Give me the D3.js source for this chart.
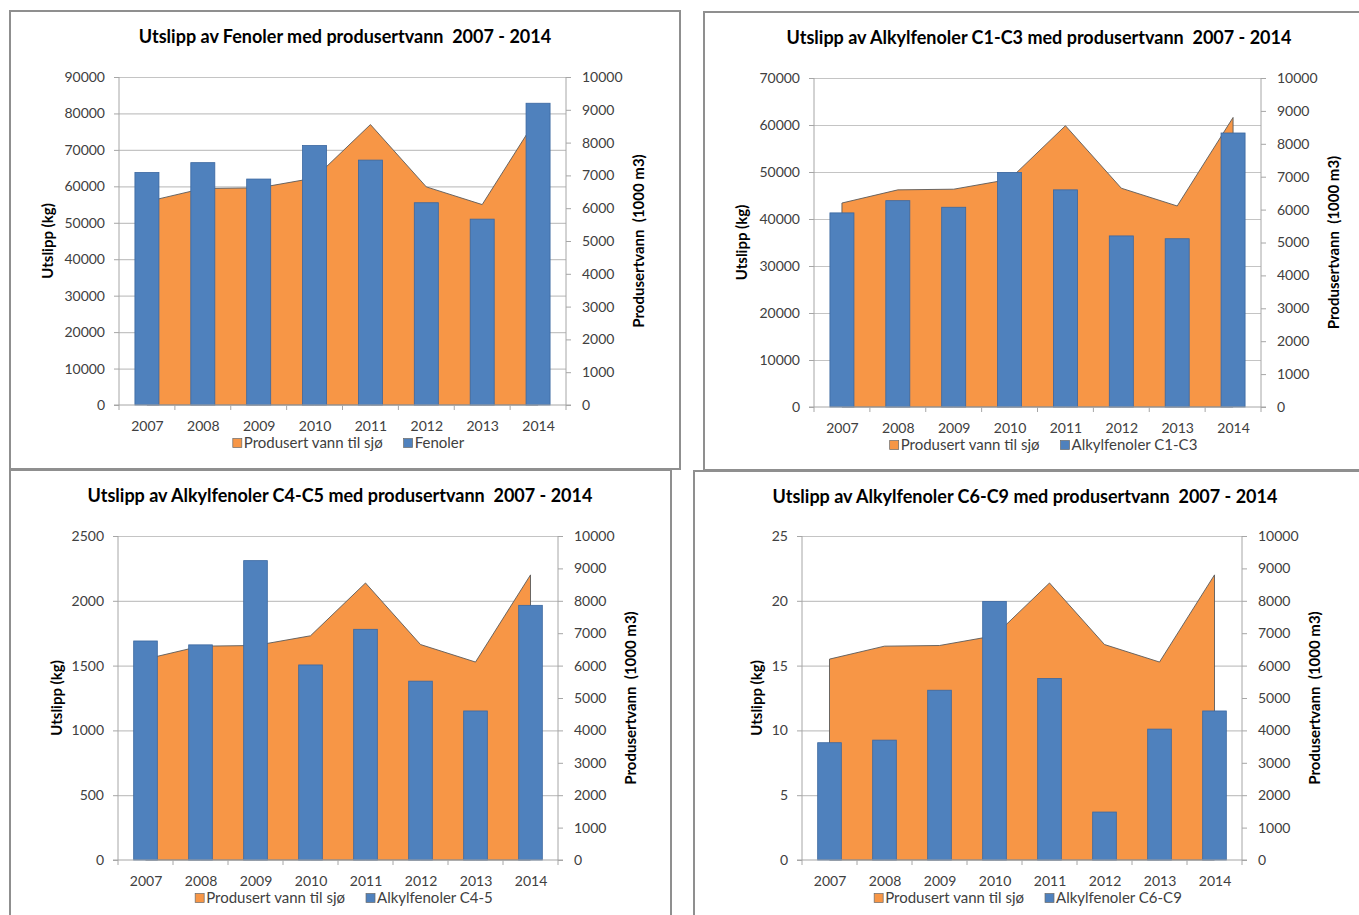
<!DOCTYPE html>
<html>
<head>
<meta charset="utf-8">
<script src="https://cdn.jsdelivr.net/npm/d3@7"></script>
<style>
body{margin:0;background:#fff;}
text{font-family:Lato,"Open Sans",sans-serif;}
.tick text{fill:#404040;font-size:14px;}
.axis path,.axis line{stroke:#a6a6a6;}
.grid line{stroke:#c4c4c4;stroke-width:1.2;}
.grid path{display:none;}
.title{font-weight:bold;font-size:18px;fill:#000;white-space:pre;}
.ylab{font-weight:bold;font-size:15px;fill:#000;white-space:pre;}
.leg{font-size:15px;fill:#404040;}
</style>
</head>
<body>
<svg id="chart" width="1359" height="915"></svg>
<script>
// data
var years=["2007","2008","2009","2010","2011","2012","2013","2014"];
var prodVann=[6200,6600,6620,6920,8550,6650,6110,8800]; // 1000 m3, same in all panels
var fenoler=[63800,66500,62000,71200,67200,55500,51000,82800];
var alkC1C3=[41300,43900,42500,49900,46200,36400,35800,58300];
var alkC4C5=[1690,1660,2310,1505,1780,1380,1150,1965];
var alkC6C9=[9.05,9.25,13.1,19.95,14.0,3.7,10.1,11.5];
var rightTicks=[0,1000,2000,3000,4000,5000,6000,7000,8000,9000,10000];

var svg=d3.select("#chart");

var panels=[
 {title:"Utslipp av Fenoler med produsertvann  2007 - 2014",name:"Fenoler",vals:fenoler,max:90000,step:10000,
  box:[10,11,670,458],tx:345,l:119,r:566,t:77,b:405,ylx:-71},
 {title:"Utslipp av Alkylfenoler C1-C3 med produsertvann  2007 - 2014",name:"Alkylfenoler C1-C3",vals:alkC1C3,max:70000,step:10000,
  box:[704,12,680,458],tx:1039,l:814,r:1261,t:78,b:407,ylx:-72},
 {title:"Utslipp av Alkylfenoler C4-C5 med produsertvann  2007 - 2014",name:"Alkylfenoler C4-5",vals:alkC4C5,max:2500,step:500,
  box:[10,470,661,460],tx:340,l:118,r:558,t:536,b:860,ylx:-61},
 {title:"Utslipp av Alkylfenoler C6-C9 med produsertvann  2007 - 2014",name:"Alkylfenoler C6-C9",vals:alkC6C9,max:25,step:5,
  box:[694,471,680,460],tx:1025,l:802,r:1242,t:536,b:860,ylx:-45}
];

panels.forEach(drawPanel);

function drawPanel(p){
  var g=svg.append("g");
  g.append("rect").attr("x",p.box[0]).attr("y",p.box[1]).attr("width",p.box[2]).attr("height",p.box[3])
   .attr("fill","#fff").attr("stroke","#8f8f8f").attr("stroke-width",2);

  var band=d3.scaleBand().domain(years).range([p.l,p.r]).paddingInner(0.57).paddingOuter(0.285);
  var pt=d3.scalePoint().domain(years).range([p.l,p.r]).padding(0.5);
  var yL=d3.scaleLinear().domain([0,p.max]).range([p.b,p.t]);
  var yR=d3.scaleLinear().domain([0,10000]).range([p.b,p.t]);
  var leftTicks=d3.range(0,p.max+p.step/2,p.step);

  // gridlines
  g.append("g").attr("class","grid").attr("transform","translate("+p.l+",0)")
   .call(d3.axisLeft(yL).tickValues(leftTicks.slice(1)).tickSize(-(p.r-p.l)).tickFormat(""));

  // produced water area
  var area=d3.area().x(function(d,i){return pt(years[i]);}).y0(p.b).y1(function(d){return yR(d);});
  g.append("path").datum(prodVann).attr("d",area).attr("fill","#f79646")
   .attr("stroke","#5a5a5a").attr("stroke-width",0.9).attr("stroke-linejoin","round");

  // bars
  g.selectAll(".bar").data(p.vals).enter().append("rect")
   .attr("x",function(d,i){return band(years[i]);})
   .attr("y",function(d){return yL(d);})
   .attr("width",band.bandwidth())
   .attr("height",function(d){return p.b-yL(d);})
   .attr("fill","#4f81bd").attr("stroke","#3a67a0").attr("stroke-width",0.8);

  // left axis
  g.append("g").attr("class","axis").attr("transform","translate("+p.l+",0)")
   .call(d3.axisLeft(yL).tickValues(leftTicks).tickSize(5).tickPadding(9).tickFormat(d3.format("d")));
  // right axis
  g.append("g").attr("class","axis").attr("transform","translate("+p.r+",0)")
   .call(d3.axisRight(yR).tickValues(rightTicks).tickSize(5).tickPadding(11).tickFormat(d3.format("d")));
  g.selectAll(".axis .domain").remove();
  g.append("line").attr("x1",p.l).attr("x2",p.l).attr("y1",p.t).attr("y2",p.b).attr("stroke","#a6a6a6");
  g.append("line").attr("x1",p.r).attr("x2",p.r).attr("y1",p.t).attr("y2",p.b).attr("stroke","#a6a6a6");

  // bottom axis: labels at centres, ticks at boundaries
  var xa=g.append("g").attr("class","axis").attr("transform","translate(0,"+p.b+")")
   .call(d3.axisBottom(pt).tickSize(0).tickPadding(16));
  xa.select(".domain").remove();
  g.append("line").attr("x1",p.l-5).attr("x2",p.r+5).attr("y1",p.b).attr("y2",p.b).attr("stroke","#a6a6a6");
  var stepW=(p.r-p.l)/years.length;
  g.selectAll(".xt").data(d3.range(years.length+1)).enter().append("line")
   .attr("x1",function(i){return p.l+i*stepW;}).attr("x2",function(i){return p.l+i*stepW;})
   .attr("y1",p.b).attr("y2",p.b+5).attr("stroke","#a6a6a6");

  // titles
  g.append("text").attr("class","title").attr("x",p.tx).attr("y",p.box[1]+32)
   .attr("text-anchor","middle").text(p.title);

  g.append("text").attr("class","ylab").attr("text-anchor","middle")
   .attr("transform","translate("+(p.l+p.ylx)+","+((p.t+p.b)/2)+") rotate(-90)")
   .attr("dy","0.35em").text("Utslipp (kg)");
  g.append("text").attr("class","ylab").attr("text-anchor","middle")
   .attr("transform","translate("+(p.r+73)+","+((p.t+p.b)/2)+") rotate(-90)")
   .attr("dy","0.35em").text("Produsertvann  (1000 m3)");

  // legend
  var lg=g.append("g");
  var items=[{c:"#f79646",n:"Produsert vann til sjø"},{c:"#4f81bd",n:p.name}];
  var xpos=0;
  items.forEach(function(it){
    lg.append("rect").attr("x",xpos).attr("y",-4.5).attr("width",9).attr("height",9)
     .attr("fill",it.c).attr("stroke","#6a6a6a").attr("stroke-width",0.7);
    var t=lg.append("text").attr("class","leg").attr("x",xpos+11).attr("y",0).attr("dy","0.35em").text(it.n);
    xpos+=11+t.node().getComputedTextLength()+21;
  });
  xpos-=21;
  lg.attr("transform","translate("+((p.l+p.r)/2+6-xpos/2)+","+(p.b+38)+")");
}
</script>
</body>
</html>
